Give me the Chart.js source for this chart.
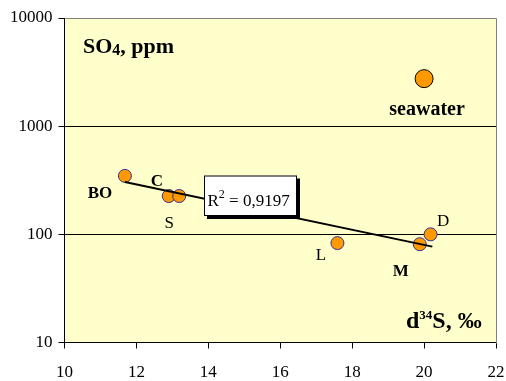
<!DOCTYPE html>
<html>
<head>
<meta charset="utf-8">
<script src="https://cdn.jsdelivr.net/npm/chart.js@4.4.0/dist/chart.umd.min.js"></script>
<style>
  html,body{margin:0;padding:0;background:#fff;}
  canvas{display:block;}
</style>
</head>
<body>
<canvas id="c" width="506" height="381"></canvas>
<script>
// ---- data ----
const sampleNames = ['BO', 'C', 'S', 'L', 'M', 'D'];
const sampleD34S  = [11.68, 12.90, 13.19, 17.59, 19.88, 20.18];
const sampleSO4   = [347, 226, 226, 83, 81, 100];
const seaName = 'seawater';
const seaD34S = [20.0];
const seaSO4  = [2750];
const trendD34S = [11.68, 20.23];
const trendSO4  = [305, 77];
const xTicks = [10, 12, 14, 16, 18, 20, 22];
const yTicks = [10, 100, 1000, 10000];
const r2Text = '0,9197';

// label styles (bold flag) and pixel offsets from the point centre
const labelBold = [true, true, false, false, true, false];
const labelOffset = [[-25, 22], [-12, -10], [-10, 31.5], [-16.5, 16.7], [-19, 31.7], [12.7, -8.3]];

const FONT = '"Liberation Serif", "Times New Roman", serif';

const bgPlugin = {
  id: 'bg',
  beforeDraw(chart) {
    const {ctx, chartArea: a} = chart;
    ctx.save();
    ctx.fillStyle = '#FFFFCC';
    ctx.fillRect(a.left, a.top, a.right - a.left, a.bottom - a.top);
    ctx.restore();
  },
  afterDraw(chart) {
    const {ctx, chartArea: a} = chart;
    ctx.save();
    ctx.strokeStyle = '#808080';
    ctx.lineWidth = 1;
    ctx.beginPath();
    ctx.moveTo(Math.round(a.left) + 0.5, Math.round(a.top) + 0.5);
    ctx.lineTo(Math.round(a.right) + 0.5, Math.round(a.top) + 0.5);
    ctx.lineTo(Math.round(a.right) + 0.5, Math.round(a.bottom) + 0.5);
    ctx.stroke();
    ctx.restore();
  }
};

function drawRuns(ctx, x, y, runs) {
  let cx = x;
  for (const [t, f, dy] of runs) {
    ctx.font = f;
    ctx.fillText(t, cx, y + dy);
    cx += ctx.measureText(t).width;
  }
  return cx;
}

const textPlugin = {
  id: 'texts',
  afterDatasetsDraw(chart) {
    const {ctx} = chart;
    const xs = chart.scales.x, ys = chart.scales.y;
    ctx.save();
    ctx.fillStyle = '#000';
    ctx.textBaseline = 'alphabetic';
    ctx.textAlign = 'center';
    sampleNames.forEach((n, i) => {
      const px = xs.getPixelForValue(sampleD34S[i]);
      const py = ys.getPixelForValue(sampleSO4[i]);
      ctx.font = (labelBold[i] ? 'bold ' : '') + '17px ' + FONT;
      ctx.fillText(n, px + labelOffset[i][0], py + labelOffset[i][1]);
    });
    {
      const px = xs.getPixelForValue(seaD34S[0]);
      const py = ys.getPixelForValue(seaSO4[0]);
      ctx.font = 'bold 20px ' + FONT;
      ctx.fillText(seaName, px + 3, py + 36);
    }
    ctx.textAlign = 'left';
    drawRuns(ctx, 83, 52.5, [
      ['SO', 'bold 22px ' + FONT, 0],
      ['4', 'bold 16px ' + FONT, 2],
      [', ppm', 'bold 22px ' + FONT, 0]
    ]);
    drawRuns(ctx, 406, 327.5, [
      ['d', 'bold 24px ' + FONT, 0],
      ['34', 'bold 13px ' + FONT, -9],
      ['S, \u2030', 'bold 24px ' + FONT, 0]
    ]);
    const bx = 204, by = 175.5, bw = 93, bh = 40.5;
    ctx.fillStyle = '#000';
    ctx.fillRect(bx + 3, by + 3, bw, bh);
    ctx.fillStyle = '#fff';
    ctx.fillRect(bx, by, bw, bh);
    ctx.strokeStyle = '#000';
    ctx.lineWidth = 1;
    ctx.strokeRect(bx + 0.5, by + 0.5, bw - 1, bh - 1);
    ctx.fillStyle = '#000';
    drawRuns(ctx, 207.5, 206, [
      ['R', '17px ' + FONT, 0],
      ['2', '12px ' + FONT, -8],
      [' = ' + r2Text, '17px ' + FONT, 0]
    ]);
    ctx.restore();
  }
};

new Chart(document.getElementById('c'), {
  type: 'scatter',
  data: {
    datasets: [
      {
        label: 'trend',
        type: 'line',
        data: trendD34S.map((x, i) => ({x, y: trendSO4[i]})),
        borderColor: '#000',
        borderWidth: 2,
        pointRadius: 0,
        fill: false,
        order: 0
      },
      {
        label: 'samples',
        data: sampleD34S.map((x, i) => ({x, y: sampleSO4[i]})),
        backgroundColor: '#FF9900',
        borderColor: '#333399',
        borderWidth: 1,
        pointRadius: 6.5,
        order: 1
      },
      {
        label: seaName,
        data: seaD34S.map((x, i) => ({x, y: seaSO4[i]})),
        backgroundColor: '#FF9900',
        borderColor: '#000',
        borderWidth: 1,
        pointRadius: 9,
        order: 2
      }
    ]
  },
  options: {
    responsive: false,
    animation: false,
    events: [],
    layout: {padding: {top: 18, right: 9.5, left: 0, bottom: 0}},
    plugins: {legend: {display: false}, tooltip: {enabled: false}},
    scales: {
      x: {
        type: 'linear', min: 10, max: 22,
        afterBuildTicks(s) { s.ticks = xTicks.map(v => ({value: v})); },
        ticks: {color: '#000', font: {family: FONT, size: 17}, padding: 14, callback: v => String(v)},
        grid: {drawOnChartArea: false, drawTicks: true, tickLength: 6, tickColor: '#000'},
        border: {color: '#000', width: 1},
        afterFit(s) { s.height = 38.5; s.paddingLeft = 0; s.paddingRight = 0; }
      },
      y: {
        type: 'logarithmic', min: 10, max: 10000,
        afterBuildTicks(s) { s.ticks = yTicks.map(v => ({value: v})); },
        ticks: {color: '#000', font: {family: FONT, size: 17}, padding: 6, callback: v => String(v)},
        grid: {
          color: c => (c.tick && (c.tick.value === 100 || c.tick.value === 1000)) ? '#000' : 'rgba(0,0,0,0)',
          tickColor: '#000', tickLength: 6, drawTicks: true
        },
        border: {color: '#000', width: 1},
        afterFit(s) { s.width = 64.5; s.paddingTop = 0; s.paddingBottom = 0; }
      }
    }
  },
  plugins: [bgPlugin, textPlugin]
});
</script>
</body>
</html>
